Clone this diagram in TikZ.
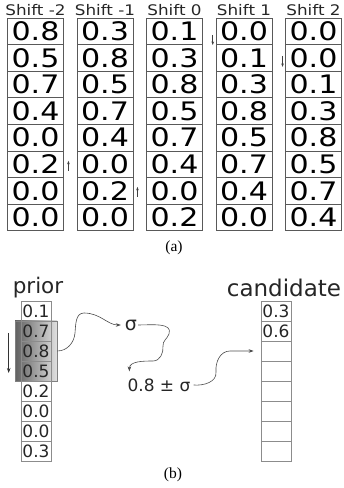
\documentclass[tikz,border=0pt]{standalone}
\usepackage{graphicx}
\usepackage{fontspec}
\setmainfont{DejaVu Sans}
\newfontfamily\serifl{Liberation Serif}
\usetikzlibrary{arrows.meta}
\begin{document}
\begin{tikzpicture}[x=1pt,y=1pt,
  cell/.style={draw=black!65, line width=0.9pt, minimum width=56pt, minimum height=26.6pt, inner sep=0pt,
    font=\fontsize{25.5}{25.5}\selectfont},
  coltitle/.style={anchor=base, inner sep=0pt, font=\fontsize{14.6}{15}\selectfont, text=black!85},
  pcell/.style={draw=black!45, line width=0.8pt, minimum width=30pt, minimum height=20pt, inner sep=0pt,
    font=\fontsize{17}{17}\selectfont, text=black!85},
  smallarr/.style={draw=black!75, line width=0.6pt, -{Stealth[length=3.5pt,width=2.6pt]}},
  wavy/.style={draw=black!70, line width=0.6pt, -{Stealth[length=5pt,width=3.6pt]}},
  lbl/.style={inner sep=0pt, font=\fontsize{15.5}{16}\selectfont\serifl},
]
\useasboundingbox (0,0) rectangle (344,488);
% ---------- (a) shift columns ----------
\foreach \x/\t/\vals [count=\i] in {
  35.5/{Shift -2}/{0.8,0.5,0.7,0.4,0.0,0.2,0.0,0.0},
  105/{Shift -1}/{0.3,0.8,0.5,0.7,0.4,0.0,0.2,0.0},
  174.5/{Shift 0}/{0.1,0.3,0.8,0.5,0.7,0.4,0.0,0.2},
  244/{Shift 1}/{0.0,0.1,0.3,0.8,0.5,0.7,0.4,0.0},
  313.5/{Shift 2}/{0.0,0.0,0.1,0.3,0.8,0.5,0.7,0.4}} {
  \node[coltitle] (t\i) at (\x,472) {\scalebox{1.15}[1]{\t}};
  \foreach \d [count=\j] in \vals {
    \node[cell] (c\i-\j) at (\x,{483.3-26.6*\j}) {\scalebox{1.18}[1]{\d}};
  }
}
\draw[smallarr] ([shift={(4.5,-6.5)}]c1-6.east) -- ([shift={(4.5,3.5)}]c1-6.east);
\draw[smallarr] ([shift={(4,-6)}]c2-7.east) -- ([shift={(4,4)}]c2-7.east);
\draw[smallarr] ([shift={(-2.8,-3.7)}]c4-1.west) -- ([shift={(-2.8,-13.7)}]c4-1.west);
\draw[smallarr] ([shift={(-2.5,2)}]c5-2.west) -- ([shift={(-2.5,-9)}]c5-2.west);
\node[lbl] (la) at (174,240) {(a)};
% ---------- (b) prior / candidate ----------
\node[draw=black!50, line width=0.6pt, left color=black!62, right color=black!12,
  minimum width=42pt, minimum height=60pt, inner sep=0pt] (gb) at (36,137) {};
\node[anchor=base, inner sep=0pt, font=\fontsize{21.5}{22}\selectfont, text=black!85] (prior) at (38,194) {prior};
\foreach \d [count=\j] in {0.1,0.7,0.8,0.5,0.2,0.0,0.0,0.3} {
  \node[pcell] (p\j) at (36,{197-20*\j}) {\d};
}
\node[anchor=base, inner sep=0pt, font=\fontsize{23}{24}\selectfont, text=black!85] (cand) at (284,191.5) {candidate};
\foreach \d [count=\j] in {0.3,0.6,,,,,,} {
  \node[pcell] (q\j) at (276,{197-20*\j}) {\d};
}
\coordinate (da) at ([xshift=-6pt,yshift=-2pt]gb.west |- p2);
\coordinate (db) at ([xshift=-6pt,yshift=-2pt]gb.west |- p4);
\draw[line width=0.8pt, draw=black!80, -{Stealth[length=5pt,width=3.6pt]}] (da) -- (db);
\node[inner sep=1pt, font=\fontsize{19}{19}\selectfont, text=black!85] (sig) at (131,163) {σ};
\node[inner sep=1pt, font=\fontsize{17}{17}\selectfont, text=black!85] (pm) at (159,103) {0.8 ± σ};
\draw[wavy, shorten >=3pt] (gb.east |- p3) to[out=0,in=-95] (75,155) to[out=85,in=180] (84,175) to[out=0,in=180] (sig.west);
\coordinate (pmtop) at ([shift={(3,6)}]pm.north west);
\draw[wavy] (sig.east) to[out=0,in=70] (169,154) to[out=250,in=95] (163,142) to[out=-85,in=0] (153,127) to[out=180,in=90] (pmtop);
\draw[wavy] ([xshift=2pt]pm.east) to[out=-5,in=-85] (216,116) to[out=95,in=180] (230,137) -- ([xshift=-7pt]q3.west);
\node[lbl] (lb) at (173,13) {(b)};
\end{tikzpicture}
\end{document}
